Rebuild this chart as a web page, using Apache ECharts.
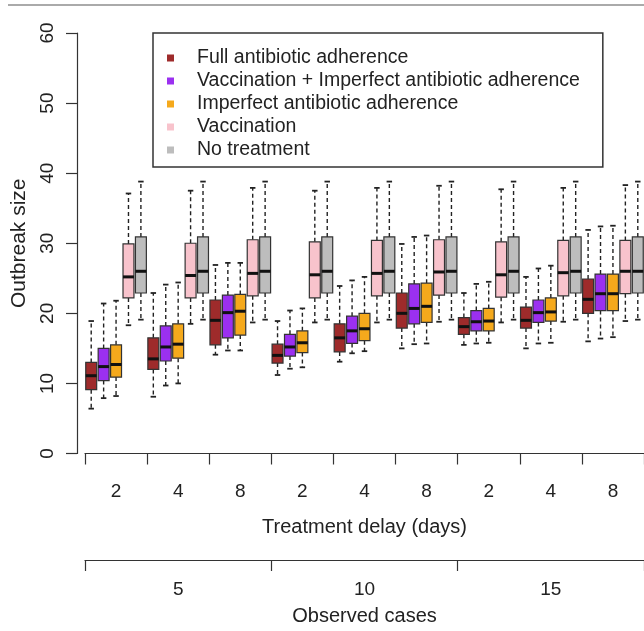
<!DOCTYPE html>
<html>
  <head>
    <meta charset="utf-8">
    <title>Outbreak size</title>
    <script src="https://cdn.jsdelivr.net/npm/echarts@6/dist/echarts.min.js"></script>
    <style>
      html, body { margin: 0; padding: 0; background: #fff; }
      #main { width: 644px; height: 631px; }
    </style>
  </head>
  <body>
    <div id="main"></div>
    <script>
      // axis categories
      const observedCases = ['5', '10', '15'];
      const delays = ['2', '4', '8'];
      const yTicks = [0, 10, 20, 30, 40, 50, 60];

      const seriesNames = [
        'Full antibiotic adherence',
        'Vaccination + Imperfect antibiotic adherence',
        'Imperfect antibiotic adherence',
        'Vaccination',
        'No treatment'
      ];
      const seriesColors = ['#9e2b2b', '#9b30f0', '#f5a91c', '#f8c3cc', '#bdbdbd'];

      // each box: [lower whisker, Q1, median, Q3, upper whisker], one per (cases, delay) group
      const fullAdherence = [
        [6.4, 9.1, 11.1, 13.0, 18.9], [8.1, 12.0, 13.5, 16.5, 22.9], [14.1, 15.5, 19.0, 21.9, 26.9],
        [11.2, 12.9, 14.0, 15.6, 18.9], [13.1, 14.5, 16.5, 18.5, 23.9], [15.0, 17.9, 20.0, 22.9, 29.9],
        [15.5, 17.0, 18.1, 19.4, 22.9], [15.0, 17.9, 19.0, 20.9, 25.2], [16.0, 20.0, 22.0, 24.9, 31.9]
      ];
      const vaccImperfect = [
        [7.9, 10.4, 12.4, 15.0, 21.4], [9.7, 13.2, 15.2, 18.2, 24.1], [14.7, 16.5, 20.1, 22.6, 27.2],
        [12.1, 13.9, 15.2, 17.0, 20.4], [14.3, 15.7, 17.5, 19.6, 24.7], [15.6, 18.5, 20.7, 24.2, 30.9],
        [15.7, 17.5, 18.8, 20.4, 24.2], [15.7, 18.7, 20.1, 21.9, 26.4], [16.4, 20.4, 22.8, 25.6, 32.4]
      ];
      const imperfectAdherence = [
        [8.2, 10.9, 12.7, 15.5, 21.8], [10.0, 13.6, 15.6, 18.5, 24.4], [14.7, 16.9, 20.3, 22.7, 27.2],
        [12.3, 14.4, 15.8, 17.5, 20.7], [14.6, 16.1, 17.8, 20.0, 25.2], [15.7, 18.7, 21.0, 24.3, 31.1],
        [15.8, 17.5, 18.9, 20.7, 24.5], [15.8, 18.9, 20.2, 22.2, 26.8], [16.6, 20.4, 22.8, 25.6, 32.5]
      ];
      const vaccination = [
        [18.3, 22.2, 25.2, 29.9, 37.1], [18.5, 22.2, 25.4, 30.0, 37.5], [18.7, 22.5, 25.7, 30.5, 37.9],
        [18.7, 22.2, 25.5, 30.2, 37.5], [18.7, 22.5, 25.7, 30.4, 37.9], [18.8, 22.6, 25.9, 30.5, 38.2],
        [18.7, 22.3, 25.5, 30.2, 37.7], [18.8, 22.5, 25.8, 30.4, 37.9], [18.9, 22.8, 26.0, 30.4, 38.3]
      ];
      const noTreatment = [
        [19.1, 22.9, 26.0, 30.9, 38.8], [19.1, 22.9, 26.0, 30.9, 38.8], [19.1, 22.9, 26.0, 30.9, 38.8],
        [19.1, 22.9, 26.0, 30.9, 38.8], [19.1, 22.9, 26.0, 30.9, 38.8], [19.1, 22.9, 26.0, 30.9, 38.8],
        [19.1, 22.9, 26.0, 30.9, 38.8], [19.1, 22.9, 26.0, 30.9, 38.8], [19.1, 22.9, 26.0, 30.9, 38.8]
      ];
      const allSeries = [fullAdherence, vaccImperfect, imperfectAdherence, vaccination, noTreatment];

      // one category per (observed cases, delay) pair
      const groups = [];
      observedCases.forEach(c => delays.forEach(d => groups.push(c + '|' + d)));

      const ink = '#222';
      const font = 'Liberation Sans, Arial, Helvetica, sans-serif';

      function renderBox(params, api) {
        const idx = api.value(0);
        const bandW = api.size([1, 0])[0];
        const slot = bandW / allSeries.length;
        const cx = api.coord([idx, 0])[0] - bandW / 2 + (params.seriesIndex + 0.5) * slot;
        const w = slot * 0.88;
        const cap = w * 0.5;
        const y = k => api.coord([idx, api.value(k)])[1];
        const lo = y(1), q1 = y(2), med = y(3), q3 = y(4), hi = y(5);
        const dash = {stroke: ink, lineWidth: 1.4, lineDash: [4, 3]};
        const solid = {stroke: ink, lineWidth: 1.8};
        return {
          type: 'group',
          children: [
            {type: 'line', shape: {x1: cx, y1: q3, x2: cx, y2: hi}, style: dash},
            {type: 'line', shape: {x1: cx, y1: q1, x2: cx, y2: lo}, style: dash},
            {type: 'line', shape: {x1: cx - cap / 2, y1: hi, x2: cx + cap / 2, y2: hi}, style: solid},
            {type: 'line', shape: {x1: cx - cap / 2, y1: lo, x2: cx + cap / 2, y2: lo}, style: solid},
            {type: 'rect', shape: {x: cx - w / 2, y: q3, width: w, height: q1 - q3},
              style: {fill: api.visual('color'), stroke: '#333', lineWidth: 1.2}},
            {type: 'line', shape: {x1: cx - w / 2, y1: med, x2: cx + w / 2, y2: med},
              style: {stroke: '#111', lineWidth: 3}}
          ]
        };
      }

      const tickStyle = {show: true, interval: 0, alignWithLabel: false, length: 11,
        lineStyle: {color: '#333', width: 1.2}};

      const chart = echarts.init(document.getElementById('main'));
      chart.setOption({
        animation: false,
        backgroundColor: '#fff',
        textStyle: {fontFamily: font, color: ink},
        graphic: [
          {type: 'line', shape: {x1: 8, y1: 5, x2: 644, y2: 5}, style: {stroke: '#aaa', lineWidth: 2}}
        ],
        legend: {
          orient: 'vertical',
          left: 153,
          top: 33,
          data: seriesNames,
          icon: 'rect',
          itemWidth: 7,
          itemHeight: 7,
          itemGap: 3,
          padding: [15, 23, 7, 14],
          borderColor: '#333',
          borderWidth: 1.5,
          selectedMode: false,
          textStyle: {fontSize: 19.5, lineHeight: 20, color: ink, fontFamily: font, padding: [0, 0, 0, 18]}
        },
        grid: {left: 85, right: -3, top: 33, bottom: 175.5, containLabel: false},
        xAxis: [
          {
            type: 'category',
            data: groups,
            position: 'bottom',
            boundaryGap: true,
            axisLine: {lineStyle: {color: '#333', width: 1.2}},
            axisTick: tickStyle,
            axisLabel: {interval: 0, fontSize: 19, lineHeight: 19, margin: 29, color: ink,
              formatter: v => v.split('|')[1]},
            name: 'Treatment delay (days)',
            nameLocation: 'middle',
            nameGap: 63.5,
            nameTextStyle: {fontSize: 20, lineHeight: 20, color: ink}
          },
          {
            type: 'category',
            data: observedCases,
            position: 'bottom',
            offset: 106.5,
            boundaryGap: true,
            axisLine: {lineStyle: {color: '#333', width: 1.2}},
            axisTick: tickStyle,
            axisLabel: {interval: 0, fontSize: 19, lineHeight: 19, margin: 20.5, color: ink},
            name: 'Observed cases',
            nameLocation: 'middle',
            nameGap: 46,
            nameTextStyle: {fontSize: 20, lineHeight: 20, color: ink}
          }
        ],
        yAxis: {
          type: 'value',
          min: yTicks[0],
          max: yTicks[yTicks.length - 1],
          interval: yTicks[1] - yTicks[0],
          offset: 8,
          splitLine: {show: false},
          axisLine: {show: true, lineStyle: {color: '#333', width: 1.2}},
          axisTick: {show: true, length: 11, lineStyle: {color: '#333', width: 1.2}},
          axisLabel: {rotate: 90, fontSize: 19, lineHeight: 19, margin: 20, color: ink},
          name: 'Outbreak size',
          nameLocation: 'middle',
          nameRotate: 90,
          nameGap: 42,
          nameTextStyle: {fontSize: 21, lineHeight: 21, color: ink}
        },
        series: allSeries.map((rows, s) => ({
          name: seriesNames[s],
          type: 'custom',
          xAxisIndex: 0,
          itemStyle: {color: seriesColors[s]},
          encode: {x: 0, y: [1, 2, 3, 4, 5]},
          data: rows.map((r, i) => [i].concat(r)),
          renderItem: renderBox
        }))
      });
    </script>
  </body>
</html>
